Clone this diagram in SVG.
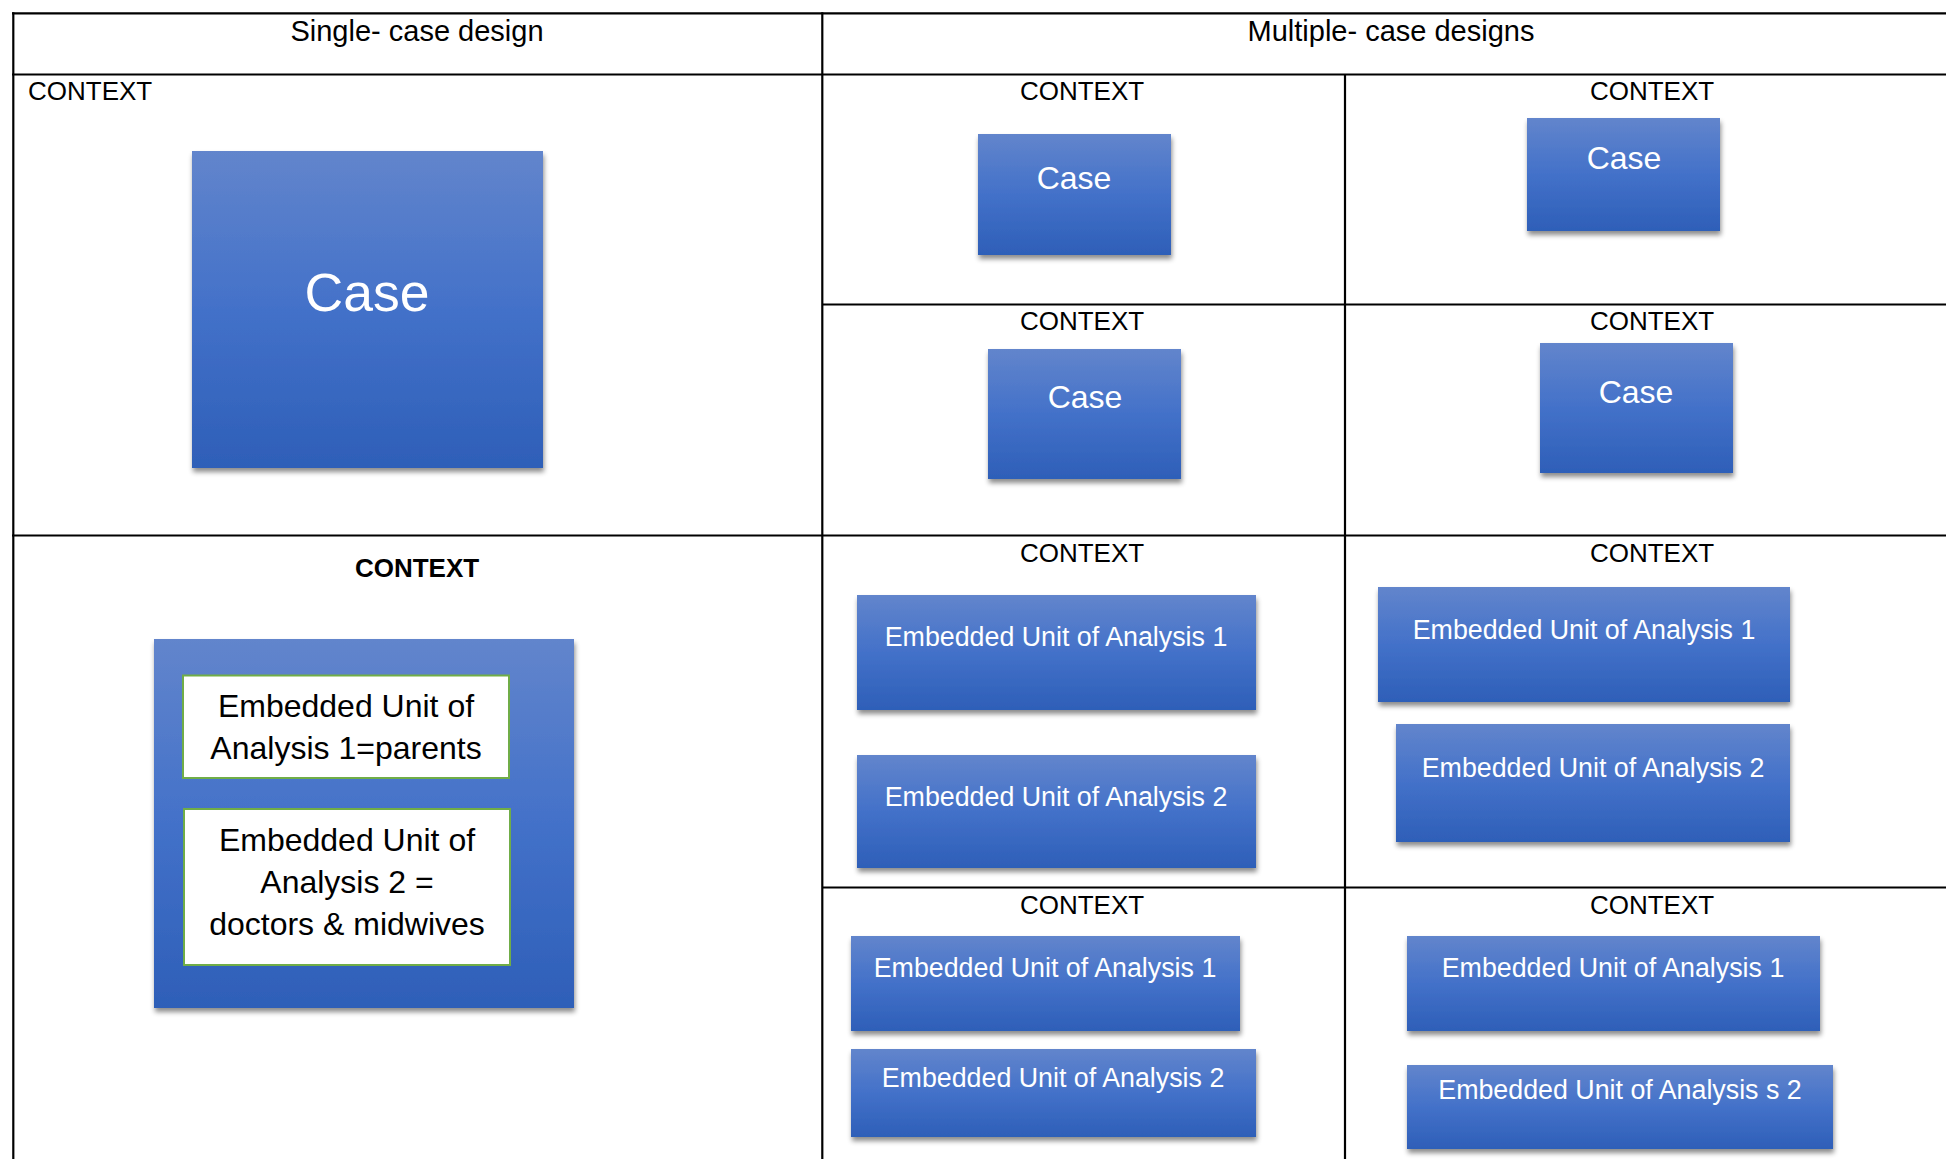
<svg xmlns="http://www.w3.org/2000/svg" width="1946" height="1159" viewBox="0 0 1946 1159">
<style>
.ln{stroke:#000;stroke-width:2.2;fill:none}
.hd{font-family:"Liberation Sans",Arial,sans-serif;font-size:29px;fill:#000;text-anchor:middle}
.ctx{font-family:"Liberation Sans",Arial,sans-serif;font-size:26px;fill:#000}
.ctxc{text-anchor:middle}
.bold{font-weight:bold}
.box{fill:url(#g);filter:url(#sh)}
.wt{font-family:"Liberation Sans",Arial,sans-serif;fill:#fff;text-anchor:middle}
.c52{font-size:53.5px}
.c32{font-size:32px}
.c26{font-size:26.8px}
.inner{fill:#fff;stroke:#70ad47;stroke-width:2}
.bt{font-family:"Liberation Sans",Arial,sans-serif;font-size:32px;fill:#000;text-anchor:middle}
</style>
<defs>
<linearGradient id="g" x1="0" y1="0" x2="0" y2="1">
<stop offset="0" stop-color="#6285cc"/>
<stop offset="0.5" stop-color="#4371c9"/>
<stop offset="1" stop-color="#2e5fb8"/>
</linearGradient>
<filter id="sh" x="-10%" y="-10%" width="120%" height="130%">
<feDropShadow dx="1" dy="4" stdDeviation="2.5" flood-color="#000" flood-opacity="0.45"/>
</filter>
</defs>
<rect width="1946" height="1159" fill="#fff"/>
<g id="grid">
<line class="ln" x1="12" y1="13.3" x2="1946" y2="13.3"/>
<line class="ln" x1="12" y1="74.5" x2="1946" y2="74.5"/>
<line class="ln" x1="822" y1="304.5" x2="1946" y2="304.5"/>
<line class="ln" x1="12" y1="535.5" x2="1946" y2="535.5"/>
<line class="ln" x1="822" y1="887.5" x2="1946" y2="887.5"/>
<line class="ln" x1="13.3" y1="12.2" x2="13.3" y2="1159"/>
<line class="ln" x1="822.3" y1="12.2" x2="822.3" y2="1159"/>
<line class="ln" x1="1345" y1="74.5" x2="1345" y2="1159"/>
</g>
<g id="labels">
<text class="hd" x="417" y="41">Single- case design</text>
<text class="hd" x="1391" y="41">Multiple- case designs</text>
<text class="ctx" x="28" y="100">CONTEXT</text>
<text class="ctx ctxc" x="1082" y="100">CONTEXT</text>
<text class="ctx ctxc" x="1652" y="100">CONTEXT</text>
<text class="ctx ctxc" x="1082" y="330">CONTEXT</text>
<text class="ctx ctxc" x="1652" y="330">CONTEXT</text>
<text class="ctx ctxc bold" x="417" y="577">CONTEXT</text>
<text class="ctx ctxc" x="1082" y="562">CONTEXT</text>
<text class="ctx ctxc" x="1652" y="562">CONTEXT</text>
<text class="ctx ctxc" x="1082" y="914">CONTEXT</text>
<text class="ctx ctxc" x="1652" y="914">CONTEXT</text>
</g>
<g id="case-single">
<rect class="box" x="192" y="151" width="351" height="317"/>
<text class="wt c52" x="367" y="311">Case</text>
</g>
<g id="case-a">
<rect class="box" x="978" y="134" width="193" height="121"/>
<text class="wt c32" x="1074" y="189">Case</text>
</g>
<g id="case-b">
<rect class="box" x="1527" y="118" width="193" height="113"/>
<text class="wt c32" x="1624" y="169">Case</text>
</g>
<g id="case-c">
<rect class="box" x="988" y="349" width="193" height="130"/>
<text class="wt c32" x="1085" y="408">Case</text>
</g>
<g id="case-d">
<rect class="box" x="1540" y="343" width="193" height="130"/>
<text class="wt c32" x="1636" y="403">Case</text>
</g>
<g id="case-embedded-single">
<rect class="box" x="154" y="639" width="420" height="369"/>
<rect class="inner" x="183" y="675.5" width="326" height="102.5"/>
<text class="bt" x="346" y="716.5">Embedded Unit of</text>
<text class="bt" x="346" y="759">Analysis 1=parents</text>
<rect class="inner" x="184" y="809" width="326" height="156"/>
<text class="bt" x="347" y="851">Embedded Unit of</text>
<text class="bt" x="347" y="893">Analysis 2 =</text>
<text class="bt" x="347" y="935">doctors &amp; midwives</text>
</g>
<g id="e1">
<rect class="box" x="857" y="595" width="399" height="115"/>
<text class="wt c26" x="1056" y="646">Embedded Unit of Analysis 1</text>
</g>
<g id="e2">
<rect class="box" x="857" y="755" width="399" height="113"/>
<text class="wt c26" x="1056" y="806">Embedded Unit of Analysis 2</text>
</g>
<g id="f1">
<rect class="box" x="1378" y="587" width="412" height="115"/>
<text class="wt c26" x="1584" y="639">Embedded Unit of Analysis 1</text>
</g>
<g id="f2">
<rect class="box" x="1396" y="724" width="394" height="118"/>
<text class="wt c26" x="1593" y="777">Embedded Unit of Analysis 2</text>
</g>
<g id="g1">
<rect class="box" x="851" y="936" width="389" height="95"/>
<text class="wt c26" x="1045" y="977">Embedded Unit of Analysis 1</text>
</g>
<g id="g2">
<rect class="box" x="851" y="1049" width="405" height="88"/>
<text class="wt c26" x="1053" y="1087">Embedded Unit of Analysis 2</text>
</g>
<g id="h1">
<rect class="box" x="1407" y="936" width="413" height="95"/>
<text class="wt c26" x="1613" y="977">Embedded Unit of Analysis 1</text>
</g>
<g id="h2">
<rect class="box" x="1407" y="1065" width="426" height="84"/>
<text class="wt c26" x="1620" y="1099">Embedded Unit of Analysis s 2</text>
</g>
<g id="connectors"></g>
</svg>
